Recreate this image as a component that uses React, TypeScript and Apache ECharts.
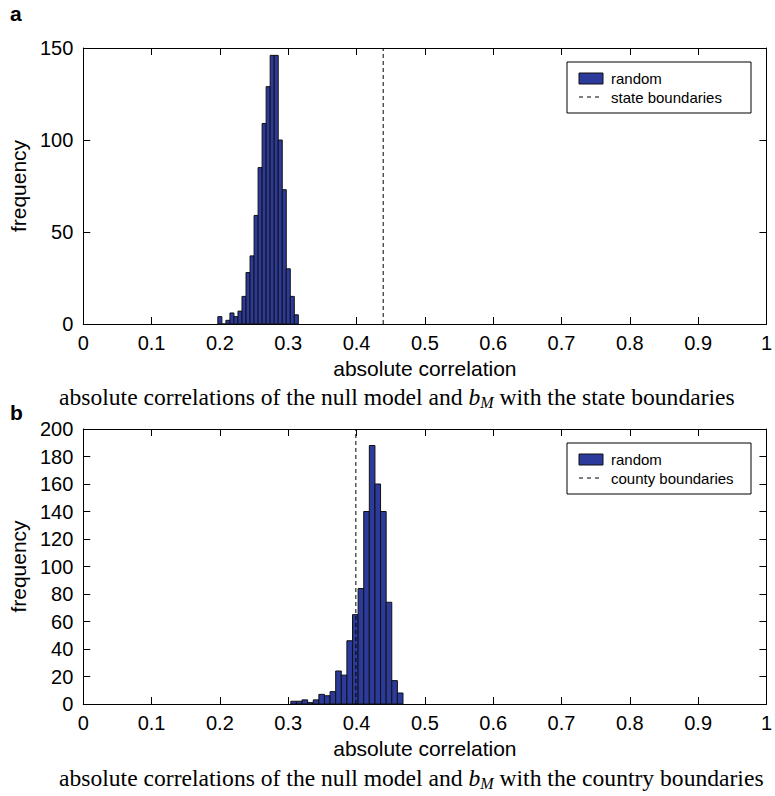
import React, { useEffect, useRef } from "react";
import * as echarts from "echarts";

// ---------- data ----------
const xTicksMax = 1;
const aCounts = [4, 0, 2, 6, 4, 7, 15, 28, 37, 59, 85, 109, 129, 146, 146, 100, 73, 30, 15, 5];
const aBinMin = 0.197;
const aBinMax = 0.3148;
const aBoundary = 0.439;

const bCounts = [2, 2, 3, 1, 3, 7, 6, 9, 24, 21, 46, 65, 84, 140, 188, 160, 140, 74, 17, 8];
const bBinMin = 0.3038;
const bBinMax = 0.468;
const bBoundary = 0.399;

const aYMax = 150;
const aYInterval = 50;
const bYMax = 200;
const bYInterval = 20;

const legendA = ["random", "state boundaries"];
const legendB = ["random", "county boundaries"];

// ---------- styles ----------
const SANS = "'Liberation Sans', Arial, Helvetica, sans-serif";
const SERIF = "'Liberation Serif', 'Times New Roman', serif";
const BAR_FILL = "#2c3a9c";
const INK = "#000";

function binData(counts: number[], lo: number, hi: number) {
  const w = (hi - lo) / counts.length;
  return counts.map((c, i) => [lo + i * w, lo + (i + 1) * w, c]);
}

const GRID_LEFT = 74;
const GRID_W = 697;
const A_TOP = 48;
const A_H = 276;
const B_TOP = 429;
const B_H = 275;

function makeAxes(gridIndex: number, yMax: number, yInt: number) {
  const lineStyle = { color: INK, width: 1 };
  const tick = { show: true, inside: true, length: 7, lineStyle };
  const xBottom = {
    type: "value",
    gridIndex,
    min: 0,
    max: xTicksMax,
    interval: 0.1,
    position: "bottom",
    axisLine: { show: true, onZero: false, lineStyle },
    axisTick: tick,
    splitLine: { show: false },
    axisLabel: { color: INK, fontSize: 20, fontFamily: SANS, margin: 9 },
    name: "absolute correlation",
    nameLocation: "middle",
    nameGap: 34,
    nameTextStyle: { color: INK, fontSize: 21, fontFamily: SANS },
  };
  const xTop = {
    type: "value",
    gridIndex,
    min: 0,
    max: xTicksMax,
    interval: 0.1,
    position: "top",
    axisLine: { show: true, onZero: false, lineStyle },
    axisTick: tick,
    splitLine: { show: false },
    axisLabel: { show: false },
  };
  const yLeft = {
    type: "value",
    gridIndex,
    min: 0,
    max: yMax,
    interval: yInt,
    position: "left",
    axisLine: { show: true, onZero: false, lineStyle },
    axisTick: tick,
    splitLine: { show: false },
    axisLabel: { color: INK, fontSize: 20, fontFamily: SANS, margin: 10 },
    name: "frequency",
    nameLocation: "middle",
    nameGap: 54,
    nameTextStyle: { color: INK, fontSize: 21, fontFamily: SANS },
  };
  const yRight = {
    type: "value",
    gridIndex,
    min: 0,
    max: yMax,
    interval: yInt,
    position: "right",
    axisLine: { show: true, onZero: false, lineStyle },
    axisTick: tick,
    splitLine: { show: false },
    axisLabel: { show: false },
  };
  return { x: [xBottom, xTop], y: [yLeft, yRight] };
}

function histSeries(name: string, xIdx: number, yIdx: number, data: number[][]) {
  return {
    type: "custom",
    name,
    xAxisIndex: xIdx,
    yAxisIndex: yIdx,
    encode: { x: [0, 1], y: 2 },
    data,
    renderItem: (params: any, api: any) => {
      const p0 = api.coord([api.value(0), api.value(2)]);
      const p1 = api.coord([api.value(1), 0]);
      return {
        type: "rect",
        shape: { x: p0[0], y: p0[1], width: p1[0] - p0[0], height: p1[1] - p0[1] },
        style: { fill: BAR_FILL, stroke: "#111", lineWidth: 1 },
      };
    },
  };
}

function dashedSeries(name: string, xIdx: number, yIdx: number, x: number, yMax: number) {
  return {
    type: "line",
    name,
    xAxisIndex: xIdx,
    yAxisIndex: yIdx,
    data: [
      [x, 0],
      [x, yMax],
    ],
    symbol: "none",
    lineStyle: { color: INK, width: 1, type: [4, 3] },
    z: 5,
  };
}

function legendGraphic(top: number, labels: string[]) {
  const left = 567;
  return {
    type: "group",
    children: [
      {
        type: "rect",
        shape: { x: left, y: top, width: 184, height: 51 },
        style: { fill: "#fff", stroke: INK, lineWidth: 1 },
        z: 100,
      },
      {
        type: "rect",
        shape: { x: left + 12, y: top + 11, width: 24, height: 11 },
        style: { fill: BAR_FILL, stroke: "#111", lineWidth: 1 },
        z: 101,
      },
      {
        type: "text",
        x: left + 44,
        y: top + 16,
        style: { text: labels[0], fontSize: 15, fontFamily: SANS, fill: INK, verticalAlign: "middle" },
        z: 101,
      },
      {
        type: "line",
        shape: { x1: left + 12, y1: top + 35, x2: left + 36, y2: top + 35 },
        style: { stroke: INK, lineWidth: 1, lineDash: [4, 4] },
        z: 101,
      },
      {
        type: "text",
        x: left + 44,
        y: top + 35,
        style: { text: labels[1], fontSize: 15, fontFamily: SANS, fill: INK, verticalAlign: "middle" },
        z: 101,
      },
    ],
  };
}

function captionGraphic(y: number, tail: string) {
  return {
    type: "text",
    x: 59,
    y,
    style: {
      text: "{t|absolute correlations of the null model and }{i|b}{s|M}{t| with the " + tail + "}",
      align: "left",
      verticalAlign: "middle",
      rich: {
        t: { fontSize: 23.6, fontFamily: SERIF, fill: INK },
        i: { fontSize: 23.6, fontFamily: SERIF, fontStyle: "italic", fill: INK },
        s: { fontSize: 16, fontFamily: SERIF, fontStyle: "italic", fill: INK, padding: [11, 0, 0, 0] },
      },
    },
  };
}

export default function App() {
  const ref = useRef<HTMLDivElement>(null);
  useEffect(() => {
    if (!ref.current) return;
    const chart = echarts.init(ref.current, undefined, { renderer: "svg" });
    const axA = makeAxes(0, aYMax, aYInterval);
    const axB = makeAxes(1, bYMax, bYInterval);
    chart.setOption({
      animation: false,
      backgroundColor: "#fff",
      grid: [
        { left: GRID_LEFT, top: A_TOP, width: GRID_W, height: A_H },
        { left: GRID_LEFT, top: B_TOP, width: GRID_W, height: B_H },
      ],
      xAxis: [...axA.x, ...axB.x],
      yAxis: [...axA.y, ...axB.y],
      series: [
        histSeries("random", 0, 0, binData(aCounts, aBinMin, aBinMax)),
        dashedSeries("state boundaries", 0, 0, aBoundary, aYMax),
        histSeries("random", 2, 2, binData(bCounts, bBinMin, bBinMax)),
        dashedSeries("county boundaries", 2, 2, bBoundary, bYMax),
      ],
      graphic: [
        {
          type: "text",
          x: 10,
          y: 13,
          style: { text: "a", fontSize: 21, fontWeight: "bold", fontFamily: SANS, fill: INK, verticalAlign: "middle" },
        },
        {
          type: "text",
          x: 10,
          y: 412,
          style: { text: "b", fontSize: 21, fontWeight: "bold", fontFamily: SANS, fill: INK, verticalAlign: "middle" },
        },
        legendGraphic(62, legendA),
        legendGraphic(443, legendB),
        captionGraphic(397, "state boundaries"),
        captionGraphic(778, "country boundaries"),
      ],
    });
    return () => chart.dispose();
  }, []);
  return (
    <div
      ref={ref}
      style={{ position: "fixed", left: 0, top: 0, width: 775, height: 796, background: "#fff" }}
    />
  );
}
